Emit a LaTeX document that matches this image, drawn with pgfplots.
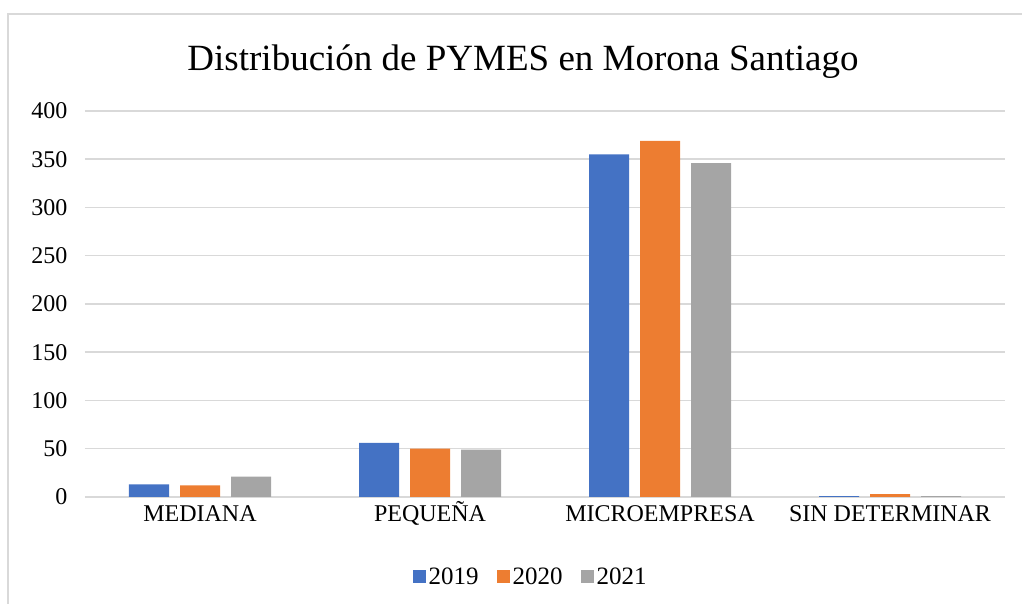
\documentclass[border=0pt]{standalone}
\usepackage{fontspec}
\setmainfont{Liberation Serif}
\usepackage{pgfplots}
\pgfplotsset{compat=1.18}
\definecolor{cA}{HTML}{4472C4}
\definecolor{cB}{HTML}{ED7D31}
\definecolor{cC}{HTML}{A5A5A5}
\definecolor{gridc}{RGB}{217,217,217}
\begin{document}
\begin{tikzpicture}[x=1pt,y=1pt]
\draw[gridc, line width=1.5pt] (8,0) -- (8,590) -- (1022,590);
\node[font=\fontsize{37}{44}\selectfont] at (523,542) {Distribución de PYMES en Morona Santiago};
\begin{axis}[
  at={(85pt,107pt)}, anchor=south west,
  scale only axis, width=920pt, height=386pt,
  xmin=-0.5, xmax=3.5, ymin=0, ymax=400,
  ybar=11pt, bar width=40pt,
  xtick={0,1,2,3},
  xticklabels={MEDIANA, PEQUEÑA, MICROEMPRESA, SIN DETERMINAR},
  ytick={0,50,...,400},
  axis line style={draw=none},
  ymajorgrids, grid style={gridc, line width=1.5pt},
  major tick length=0pt,
  tick label style={font=\fontsize{24}{28}\selectfont},
  /pgf/number format/assume math mode=true,
  yticklabel style={xshift=-14pt},
  xticklabel style={anchor=north, text height=16pt, text depth=0pt, yshift=-5pt},
  legend columns=3,
  legend style={at={(0.485,-0.207)}, anchor=center, draw=none,
    font=\fontsize{25}{29}\selectfont,
    /tikz/every even column/.append style={column sep=16pt},
    nodes={inner sep=2.5pt}},
  legend image code/.code={\fill[#1] (0pt,-6.5pt) rectangle (13pt,6.5pt);},
]
\addplot[fill=cA, draw=none] coordinates {(0,13) (1,56) (2,355) (3,1)};
\addplot[fill=cB, draw=none] coordinates {(0,12) (1,50) (2,369) (3,3)};
\addplot[fill=cC, draw=none] coordinates {(0,21) (1,49) (2,346) (3,1)};
\legend{2019,2020,2021}
\end{axis}
\pgfresetboundingbox
\path (0,0) rectangle (1022,604);
\end{tikzpicture}
\end{document}
